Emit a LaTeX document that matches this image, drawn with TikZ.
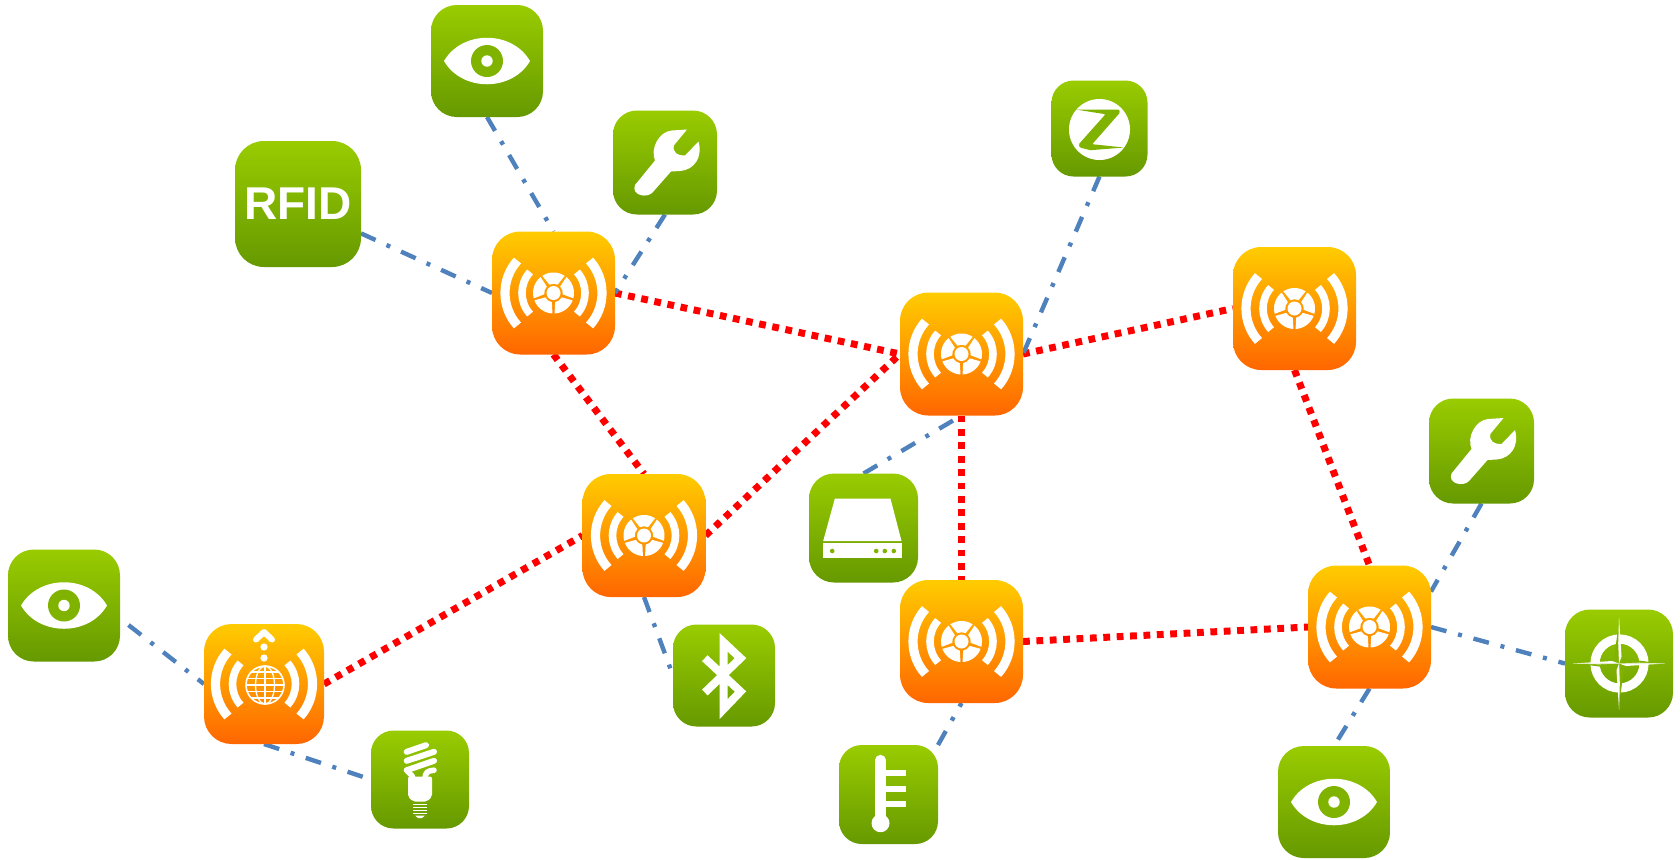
\documentclass[tikz,border=0pt]{standalone}
\usepackage{fontspec}
\setmainfont{Liberation Sans}
\usetikzlibrary{backgrounds}

\definecolor{icongreen}{HTML}{80B300}
\definecolor{linkblue}{HTML}{4F81BD}

\tikzset{
    apbox/.style={minimum size=#1*0.5pt, inner sep=0pt, outer sep=0pt, rounded corners=#1*0.115pt,
        top color={rgb,255:red,255;green,204;blue,0}, bottom color={rgb,255:red,255;green,102;blue,0}},
    greenbox/.style={minimum size=#1*0.5pt, inner sep=0pt, outer sep=0pt, rounded corners=#1*0.115pt,
        top color={rgb,255:red,153;green,204;blue,0}, bottom color={rgb,255:red,102;green,153;blue,0}},
    meshlink/.style={red, line width=3.5pt, dash pattern=on 3.4pt off 3.3pt},
    devlink/.style={linkblue, line width=2.2pt, dash pattern=on 8pt off 6pt on 2pt off 6pt},
    waves/.pic={
        \foreach \s in {-1,1} {
            \draw[white, line width=4.6pt] (90+\s*48:48.5) arc[start angle=90+\s*48, end angle=90+\s*132, radius=48.5];
            \draw[white, line width=3.8pt] (90+\s*48:31.5) arc[start angle=90+\s*48, end angle=90+\s*132, radius=31.5];
        }
    },
    apicon/.pic={
        \pic {waves};
        \fill[white] (0,0) circle (7);
        \foreach \a in {90,162,234,306,18} {
            \fill[white] (\a-33:20.5) arc[start angle=\a-33, end angle=\a+33, radius=20.5]
                -- (\a+26:9.3) arc[start angle=\a+26, end angle=\a-26, radius=9.3] -- cycle;
        }
    },
    gwicon/.pic={
        \pic {waves};
        \draw[white, line width=0.8pt] (1,-1) circle (19);
        \draw[white, line width=0.65pt] (1,-1) ellipse (9.5 and 19);
        \draw[white, line width=0.65pt] (1,-20) -- (1,18);
        \foreach \y in {-13,-6.5,0,6.5,13} {
            \pgfmathsetmacro{\w}{sqrt(361-\y*\y)}
            \draw[white, line width=0.65pt] (1-\w,-1+\y) -- (1+\w,-1+\y);
        }
        \fill[white] (0,26) circle (3.6);
        \fill[white] (0,37) circle (3.6);
        \draw[white, line width=3pt, line cap=round, line join=round] (-8,44.5) -- (0,52) -- (8,44.5);
    },
    eyeicon/.pic={
        \fill[white] (-43,0) .. controls (-25,31) and (25,31) .. (43,0)
            .. controls (25,-31) and (-25,-31) .. (-43,0) -- cycle;
        \fill[icongreen] (0,0) circle (16);
        \fill[white] (0,0) circle (5.7);
    },
    wrenchicon/.pic={
        \fill[white] (-30,-22.5) -- (-10,2) .. controls (-15,14) and (-6,31) .. (6.7,32) -- (22,33)
            -- (9,17.3) .. controls (7,10) and (13,6.5) .. (20,7) -- (33.5,21)
            .. controls (38,5) and (29,-7.5) .. (15,-8.5) -- (6,-9) -- (-12.5,-30)
            .. controls (-18,-36) and (-34,-33) .. (-30,-22.5) -- cycle;
    },
    zicon/.pic={
        \fill[white] (0,-1) circle (30.5);
        \fill[icongreen, rounded corners=0.5pt] (-24,19) -- (19.7,19) -- (20.3,15.7) -- (-7.3,-15.7) -- (24.3,-19)
            -- (-9,-21.7) -- (-19.7,-19) -- (-20.7,-15.7) -- (6,14.3) -- cycle;
    },
    driveicon/.pic={
        \fill[white] (-28.7,29.3) -- (27,29.3) -- (38,-13) -- (-40.3,-13) -- cycle;
        \fill[white] (-40.3,-14.7) rectangle (38,-29.7);
        \foreach \x in {-31.3,12.7,21.3,30.3} {
            \fill[icongreen] (\x,-23) circle (2.3);
        }
    },
    btoothicon/.pic={
        \draw[white, line width=4pt, miter limit=10] (-19.2,17.3) -- (16.5,-16) -- (-0.5,-33.7)
            -- (-0.5,33.3) -- (16.5,17.3) -- (-19.2,-17);
    },
    thermoicon/.pic={
        \draw[white, line width=5.2pt, line cap=round] (-8,-28) -- (-8,34.5);
        \fill[white] (-8,-28.7) circle (9);
        \foreach \y in {21.7,6,-9.7} {
            \fill[white] (-3,\y-3) rectangle (17.3,\y+3);
        }
    },
    bulbicon/.pic={
        \draw[white, line width=3pt, line cap=round] (-13.3,27.7) -- (6,34.3);
        \draw[white, line width=3pt, line cap=round] (-13.3,18.7) -- (14,27.7);
        \draw[white, line width=3pt, line cap=round] (-13.3,9.3) -- (14,18.7);
        \draw[white, line width=2.8pt, line cap=round] (-13.3,9.3) .. controls (-12,6) and (-8,6) .. (-7,1);
        \draw[white, line width=2.8pt, line cap=round] (14,9.3) .. controls (8,9) and (5,7) .. (5,1);
        \fill[white, rounded corners=1pt] (-12,3) -- (12,3) -- (12,-17) -- (7,-22) -- (-7,-22) -- (-12,-17) -- cycle;
        \foreach \y in {-25,-28,-30.8,-33.8} {
            \fill[white] (-7.3,\y-0.8) rectangle (7.3,\y+0.8);
        }
        \fill[white] (-5,-36) -- (5,-36) -- (2,-38.5) -- (-2,-38.5) -- cycle;
    },
    compassicon/.pic={
        \draw[white, line width=4.6pt] (0.5,0) circle (24.5);
        \foreach \a in {0,90,180,270} {
            \fill[icongreen, rotate=\a] (0,0) -- (5,5) -- (31,1.5) -- (31,0) -- cycle;
            \fill[white, rotate=\a] (0,0) -- (46,0) -- (7,-2.5) -- cycle;
            \fill[white, rotate=\a] (0,0) -- (46,0) -- (20,0.8) -- cycle;
        }
    },
}

\begin{document}
\begin{tikzpicture}[x=0.5pt, y=0.5pt]
    \useasboundingbox (0,0) rectangle (1680,-859);

    % access points
    \node[apbox=123] (apA) at (553.5,-293) {};
    \node[apbox=123] (apB) at (644,-535.5) {};
    \node[apbox=123] (apC) at (961.5,-354) {};
    \node[apbox=123] (apD) at (961.5,-641.5) {};
    \node[apbox=123] (apE) at (1294.5,-308.5) {};
    \node[apbox=123] (apF) at (1369.5,-627) {};
    \node[apbox=120] (gateway) at (264,-684) {};

    % devices
    \node[greenbox=112] (eyeTop) at (487,-61) {};
    \node[greenbox=112] (eyeLeft) at (64,-605.5) {};
    \node[greenbox=112] (eyeBottom) at (1334,-802) {};
    \node[greenbox=126, text=white, font=\bfseries\fontsize{23pt}{23pt}\selectfont] (rfid) at (298,-204) {RFID};
    \node[greenbox=104] (wrenchA) at (665,-162.5) {};
    \node[greenbox=105] (wrenchF) at (1481.5,-451) {};
    \node[greenbox=96] (zigbee) at (1099.5,-128.5) {};
    \node[greenbox=109] (drive) at (863.5,-528) {};
    \node[greenbox=102] (bluetooth) at (724,-675.5) {};
    \node[greenbox=99] (thermo) at (888.5,-794.5) {};
    \node[greenbox=98] (bulb) at (420,-779.5) {};
    \node[greenbox=108] (compass) at (1619,-663.5) {};
    \coordinate (eyeEnd) at (128.5,-625);

    % icons
    \foreach \n in {apA,apB,apC,apD,apE,apF} {
        \pic at (\n) {apicon};
    }
    \pic at (gateway) {gwicon};
    \pic at (eyeTop) {eyeicon};
    \pic at (eyeLeft) {eyeicon};
    \pic at (eyeBottom) {eyeicon};
    \pic at (wrenchA) {wrenchicon};
    \pic at (wrenchF) {wrenchicon};
    \pic at (zigbee) {zicon};
    \pic at (drive) {driveicon};
    \pic at (bluetooth) {btoothicon};
    \pic at (thermo) {thermoicon};
    \pic at (bulb) {bulbicon};
    \pic at (compass) {compassicon};

    \begin{scope}[on background layer]
        % mesh links
        \draw[meshlink] (apA.east) -- (apC.west);
        \draw[meshlink] (apA.south) -- (apB.north);
        \draw[meshlink] (apB.east) -- (apC.west);
        \draw[meshlink] (gateway.east) -- (apB.west);
        \draw[meshlink] (apC.east) -- (apE.west);
        \draw[meshlink] (apC.south) -- (apD.north);
        \draw[meshlink] (apD.east) -- (apF.west);
        \draw[meshlink] (apE.south) -- (apF.north);

        % device links
        \draw[devlink] (eyeTop.south) -- (apA.north);
        \draw[devlink] (rfid.-25) -- (apA.west);
        \draw[devlink] (wrenchA.south) -- (apA.east);
        \draw[devlink] (zigbee.south) -- (apC.east);
        \draw[devlink] (drive.north) -- (apC.south);
        \draw[devlink] (eyeEnd) -- (gateway.west);
        \draw[devlink] (gateway.south) -- (bulb.west);
        \draw[devlink] (apB.south) -- (bluetooth.west);
        \draw[devlink] (thermo.north east) -- (apD.south);
        \draw[devlink] (wrenchF.south) -- (apF.30);
        \draw[devlink] (apF.east) -- (compass.west);
        \draw[devlink] (apF.south) -- (eyeBottom.north);
    \end{scope}
\end{tikzpicture}
\end{document}
